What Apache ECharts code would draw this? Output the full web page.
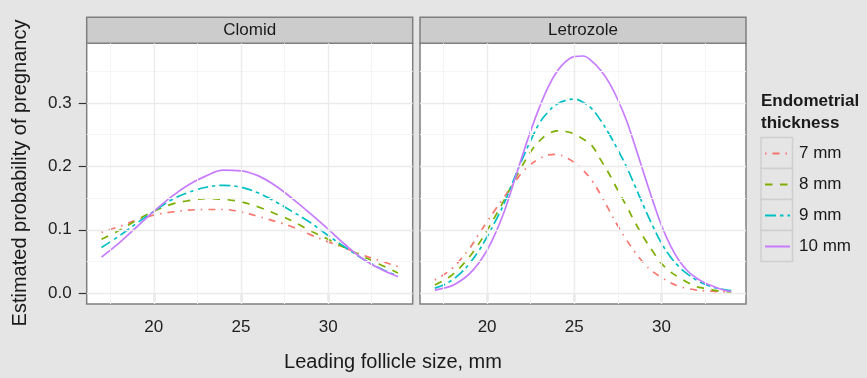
<!DOCTYPE html>
<html><head><meta charset="utf-8">
<script src="https://cdn.jsdelivr.net/npm/echarts@6/dist/echarts.min.js"></script>
<style>html,body{margin:0;padding:0;background:#E5E5E5;}#c{width:867px;height:378px;}</style>
</head><body><div id="c"></div>
<script>
// ---- data ----
const panels = ['Clomid', 'Letrozole'];
const thicknessLabels = ['7 mm', '8 mm', '9 mm', '10 mm'];

// Clomid panel, read at 1 mm steps
const follicleSizeClomid = [17,18,19,20,21,22,23,24,25,26,27,28,29,30,31,32,33,34];
const clomid7  = [0.096,0.105,0.115,0.123,0.128,0.131,0.132,0.132,0.128,0.121,0.113,0.104,0.092,0.081,0.071,0.060,0.051,0.042];
const clomid8  = [0.085,0.099,0.115,0.129,0.140,0.146,0.149,0.148,0.144,0.136,0.125,0.113,0.098,0.085,0.071,0.058,0.045,0.032];
const clomid9  = [0.072,0.090,0.110,0.129,0.147,0.159,0.167,0.170,0.167,0.158,0.144,0.128,0.111,0.091,0.072,0.054,0.039,0.027];
const clomid10 = [0.057,0.079,0.104,0.129,0.152,0.171,0.185,0.194,0.193,0.185,0.169,0.148,0.125,0.101,0.076,0.054,0.038,0.026];

// Letrozole panel, read at 0.5 mm steps (steeper curves)
const follicleSizeLetrozole = [17,17.5,18,18.5,19,19.5,20,20.5,21,21.5,22,22.5,23,23.5,24,24.5,25,25.5,26,26.5,27,27.5,28,28.5,29,29.5,30,30.5,31,31.5,32,32.5,33,33.5,34];
const letrozole7  = [0.021,0.029,0.039,0.054,0.071,0.092,0.113,0.133,0.152,0.172,0.190,0.203,0.212,0.218,0.219,0.214,0.206,0.194,0.178,0.156,0.131,0.106,0.084,0.064,0.047,0.034,0.025,0.017,0.011,0.0075,0.005,0.0038,0.003,0.0022,0.0015];
const letrozole8  = [0.013,0.020,0.029,0.042,0.058,0.077,0.099,0.123,0.148,0.175,0.200,0.223,0.240,0.251,0.256,0.255,0.251,0.243,0.233,0.211,0.188,0.162,0.137,0.111,0.087,0.066,0.047,0.034,0.025,0.017,0.0105,0.0075,0.005,0.003,0.0016];
const letrozole9  = [0.008,0.013,0.021,0.032,0.047,0.066,0.089,0.115,0.143,0.177,0.210,0.241,0.268,0.286,0.298,0.304,0.306,0.301,0.291,0.273,0.251,0.226,0.199,0.168,0.136,0.106,0.079,0.058,0.042,0.030,0.021,0.014,0.0094,0.0062,0.004];
const letrozole10 = [0.005,0.008,0.012,0.020,0.031,0.047,0.068,0.096,0.130,0.172,0.215,0.256,0.293,0.325,0.349,0.365,0.373,0.374,0.366,0.352,0.332,0.305,0.272,0.231,0.188,0.146,0.107,0.076,0.052,0.035,0.024,0.016,0.0105,0.0055,0.0026];

const xTickValues = [20, 25, 30];
const xMinorValues = [17.5, 22.5, 27.5, 32.5];
const yTickValues = [0, 0.1, 0.2, 0.3];
const yTickLabels = ['0.0', '0.1', '0.2', '0.3'];
const yMinorValues = [0.05, 0.15, 0.25, 0.35];
const xTitle = 'Leading follicle size, mm';
const yTitle = 'Estimated probability of pregnancy';
const legendTitle = ['Endometrial', 'thickness'];

// ---- styling / layout ----
const panelX = [follicleSizeClomid, follicleSizeLetrozole];
const panelData = [[clomid7, clomid8, clomid9, clomid10], [letrozole7, letrozole8, letrozole9, letrozole10]];
const colors = ['#F8766D', '#7CAE00', '#00BFC4', '#C77CFF'];
const dashes = [[1.5, 6, 7, 6], [7.5, 7.5], [11, 4, 3.5, 4], 'solid'];
const FONT = '"Liberation Sans", Arial, sans-serif';
const gridBoxes = [
  {left: 86.7, top: 43.3, width: 326, height: 260.7},
  {left: 420, top: 43.3, width: 326, height: 260.7}
];
const stripTop = 17.3, stripH = 26;

const chart = echarts.init(document.getElementById('c'), null, {renderer: 'canvas'});

const series = [];
panels.forEach((p, pi) => {
  const gl = (v, axis, major) => ({
    [axis]: v,
    lineStyle: {color: major ? '#EBEBEB' : '#F5F5F5', width: major ? 1.3 : 1, type: 'solid'}
  });
  series.push({
    type: 'line', xAxisIndex: pi, yAxisIndex: pi, data: [], silent: true, z: 1,
    markLine: {
      silent: true, symbol: ['none', 'none'], label: {show: false}, animation: false,
      data: [
        ...xMinorValues.map(v => gl(v, 'xAxis', false)),
        ...yMinorValues.map(v => gl(v, 'yAxis', false)),
        ...xTickValues.map(v => gl(v, 'xAxis', true)),
        ...yTickValues.map(v => gl(v, 'yAxis', true))
      ]
    }
  });
  thicknessLabels.forEach((t, ti) => {
    series.push({
      type: 'line', name: t, xAxisIndex: pi, yAxisIndex: pi,
      data: panelX[pi].map((x, k) => [x, panelData[pi][ti][k]]),
      symbol: 'none', showSymbol: false, smooth: 0.4, z: 3,
      lineStyle: {color: colors[ti], width: 1.7, type: dashes[ti]},
      itemStyle: {color: colors[ti]}
    });
  });
});

const graphic = [];
gridBoxes.forEach((g, i) => {
  graphic.push({type: 'rect', z: 5, shape: {x: g.left, y: stripTop, width: g.width, height: stripH},
    style: {fill: '#CCCCCC', stroke: '#7F7F7F', lineWidth: 1.5}});
  graphic.push({type: 'text', z: 6, x: g.left + g.width / 2, y: stripTop + stripH / 2 + 0.5,
    style: {text: panels[i], font: '17px ' + FONT, fill: '#1A1A1A', align: 'center', verticalAlign: 'middle'}});
});
thicknessLabels.forEach((t, i) => {
  graphic.push({type: 'rect', z: 0, shape: {x: 761, y: 137.5 + i * 31, width: 31.5, height: 31},
    style: {fill: '#E5E5E5', stroke: '#CFCFCF', lineWidth: 1.5}});
});
graphic.push({type: 'text', x: 761, y: 101, style: {text: legendTitle[0], font: 'bold 17px ' + FONT, fill: '#1A1A1A', align: 'left', verticalAlign: 'middle'}});
graphic.push({type: 'text', x: 761, y: 123, style: {text: legendTitle[1], font: 'bold 17px ' + FONT, fill: '#1A1A1A', align: 'left', verticalAlign: 'middle'}});
graphic.push({type: 'text', x: 393, y: 362, style: {text: xTitle, font: '20px ' + FONT, fill: '#1A1A1A', align: 'center', verticalAlign: 'middle'}});
graphic.push({type: 'text', x: 20, y: 173, rotation: Math.PI / 2,
  style: {text: yTitle, font: '20px ' + FONT, fill: '#1A1A1A', align: 'center', verticalAlign: 'middle'}});

const option = {
  animation: false,
  backgroundColor: '#E5E5E5',
  grid: gridBoxes.map(g => ({left: g.left, top: g.top, width: g.width, height: g.height, show: true,
    backgroundColor: '#FFFFFF', borderColor: '#7F7F7F', borderWidth: 1.5, containLabel: false})),
  xAxis: gridBoxes.map((g, i) => ({
    type: 'value', gridIndex: i, min: 16.15, max: 34.85,
    splitLine: {show: false}, axisLine: {show: false},
    axisTick: {show: true, length: 8, customValues: xTickValues, lineStyle: {color: '#333333', width: 1.2}},
    axisLabel: {show: true, customValues: xTickValues, margin: 15, fontSize: 17, color: '#222222', fontFamily: FONT}
  })),
  yAxis: gridBoxes.map((g, i) => ({
    type: 'value', gridIndex: i, min: -0.017, max: 0.394,
    splitLine: {show: false}, axisLine: {show: false},
    axisTick: {show: i === 0, length: 8, customValues: yTickValues, lineStyle: {color: '#333333', width: 1.2}},
    axisLabel: {show: i === 0, customValues: yTickValues, margin: 15, fontSize: 17, color: '#222222', fontFamily: FONT,
      formatter: v => { const k = yTickValues.findIndex(t => Math.abs(t - v) < 1e-9); return k >= 0 ? yTickLabels[k] : ''; }}
  })),
  legend: {
    orient: 'vertical', left: 764, top: 145, padding: 0, itemWidth: 25, itemHeight: 14, itemGap: 14,
    data: thicknessLabels, selectedMode: false,
    itemStyle: {opacity: 0, borderWidth: 0, color: 'rgba(0,0,0,0)'},
    textStyle: {fontSize: 17, color: '#1A1A1A', fontFamily: FONT, padding: [0, 0, 0, 4]}
  },
  graphic: graphic,
  series: series
};
chart.setOption(option);
</script></body></html>
